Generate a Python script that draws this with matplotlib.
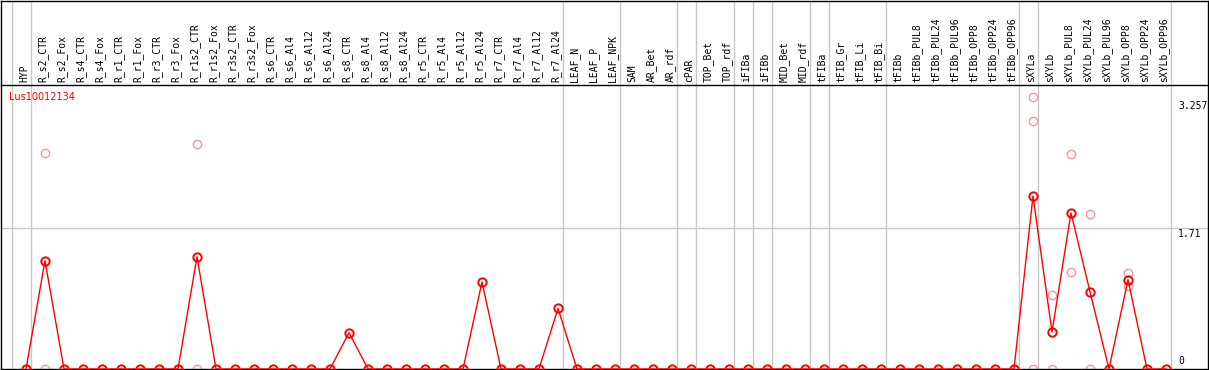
import matplotlib
matplotlib.use("Agg")
import matplotlib.pyplot as plt

samples = [
    "HYP",
    "R_s2_CTR", "R_s2_Fox", "R_s4_CTR", "R_s4_Fox", "R_r1_CTR", "R_r1_Fox",
    "R_r3_CTR", "R_r3_Fox", "R_r1s2_CTR", "R_r1s2_Fox", "R_r3s2_CTR", "R_r3s2_Fox",
    "R_s6_CTR", "R_s6_Al4", "R_s6_Al12", "R_s6_Al24",
    "R_s8_CTR", "R_s8_Al4", "R_s8_Al12", "R_s8_Al24",
    "R_r5_CTR", "R_r5_Al4", "R_r5_Al12", "R_r5_Al24",
    "R_r7_CTR", "R_r7_Al4", "R_r7_Al12", "R_r7_Al24",
    "LEAF_N", "LEAF_P", "LEAF_NPK",
    "SAM", "AR_Bet", "AR_rdf",
    "cPAR",
    "TOP_Bet", "TOP_rdf",
    "iFIBa",
    "iFIBb",
    "MID_Bet", "MID_rdf",
    "tFIBa",
    "tFIB_Gr", "tFIB_Li", "tFIB_Bi",
    "tFIBb", "tFIBb_PUL8", "tFIBb_PUL24", "tFIBb_PUL96",
    "tFIBb_OPP8", "tFIBb_OPP24", "tFIBb_OPP96",
    "sXYLa",
    "sXYLb", "sXYLb_PUL8", "sXYLb_PUL24", "sXYLb_PUL96",
    "sXYLb_OPP8", "sXYLb_OPP24", "sXYLb_OPP96",
]

# mean expression per sample (0 unless listed)
means = [0.0] * len(samples)
mean_nonzero = {
    "R_s2_CTR": 1.313, "R_r1s2_CTR": 1.362, "R_s8_CTR": 0.440,
    "R_r5_Al24": 1.055, "R_r7_Al24": 0.735,
    "sXYLa": 2.098, "sXYLb": 0.449, "sXYLb_PUL8": 1.892,
    "sXYLb_PUL24": 0.937, "sXYLb_OPP8": 1.083,
}
for name, v in mean_nonzero.items():
    means[samples.index(name)] = v

# individual replicates (faint circles)
rep_samples = [
    "R_s2_CTR", "R_s2_CTR", "R_r1s2_CTR", "R_r1s2_CTR",
    "sXYLa", "sXYLa", "sXYLa", "sXYLb", "sXYLb",
    "sXYLb_PUL8", "sXYLb_PUL8", "sXYLb_PUL24", "sXYLb_PUL24",
    "sXYLb_OPP8", "sXYLb_OPP8",
]
rep_values = [
    2.62, 0.0, 2.729, 0.0,
    3.298, 3.008, 0.0, 0.897, 0.0,
    2.607, 1.176, 1.88, 0.0,
    1.168, 1.01,
]

# last sample of each group (separator drawn after it)
group_ends = ["HYP", "R_r7_Al24", "LEAF_NPK", "AR_rdf", "cPAR", "TOP_rdf",
              "iFIBa", "iFIBb", "MID_rdf", "tFIBa", "tFIB_Bi", "tFIBb_OPP96",
              "sXYLa", "sXYLb_OPP96"]

y_labels = [0, 1.71, 3.257]
gene = "Lus10012134"

W, H = 1209, 370
fig = plt.figure(figsize=(W / 100, H / 100), dpi=100)

x0, dx = 26.0, 19.0      # pixel of first column, pixels per column
split = 85               # pixel row between label strip and plot
px_per_unit = 82.46
split_h = H - 1 - split

xlim = ((1 - x0) / dx, (1208 - x0) / dx)
ax_lab = fig.add_axes([1 / W, (H - split) / H, 1207 / W, (split - 0.5) / H])
ax = fig.add_axes([1 / W, 1 / H, 1207 / W, split_h / H])

for a in (ax_lab, ax):
    a.set_xlim(*xlim)
    a.set_xticks([])
    a.set_yticks([])
    for s in a.spines.values():
        s.set_linewidth(1.0)
        s.set_color("black")
ax_lab.spines["bottom"].set_visible(False)
ax_lab.set_ylim(0, 1)
ax.set_ylim(0, split_h / px_per_unit)

xs = list(range(len(samples)))
sep_x = [-1 + 4.5 / dx] + [samples.index(n) + 4.5 / dx for n in group_ends]
for sx in sep_x:
    ax.axvline(sx, color="#c8c8c8", lw=1.0, zorder=0)
    ax_lab.axvline(sx, color="#c8c8c8", lw=1.0, zorder=0)

ax.axhline(1.71, color="#c8c8c8", lw=1.0, zorder=0)

for i, name in enumerate(samples):
    ax_lab.text(i - 2 / dx, 0.03, name, rotation=90, ha="center", va="bottom",
                fontsize=7.0, family="DejaVu Sans Mono", color="black")

rep_x = [samples.index(n) for n in rep_samples]
ax.plot(rep_x, rep_values, "o", ls="none", mfc="none", mec="#f09a9a",
        ms=6, mew=1.0, zorder=2)
ax.plot(xs, means, "-", color="red", lw=1.0, zorder=3)
ax.plot(xs, means, "o", ls="none", mfc="none", mec="red", ms=6, mew=1.4, zorder=4)

lx = (1178 - x0) / dx
for v in y_labels:
    if v == 0:
        ax.annotate(str(v), (lx, v), xytext=(0, 3), textcoords="offset pixels",
                    ha="left", va="bottom", fontsize=7, family="DejaVu Sans Mono")
    else:
        ax.annotate(str(v), (lx, v), xytext=(0, -1), textcoords="offset pixels",
                    ha="left", va="top", fontsize=7, family="DejaVu Sans Mono")

ax.text((9 - 1) / 1207, (H - 1 - 97) / split_h, gene, transform=ax.transAxes,
        ha="left", va="center", fontsize=7, color="red")

fig.savefig("out.png", dpi=100)
